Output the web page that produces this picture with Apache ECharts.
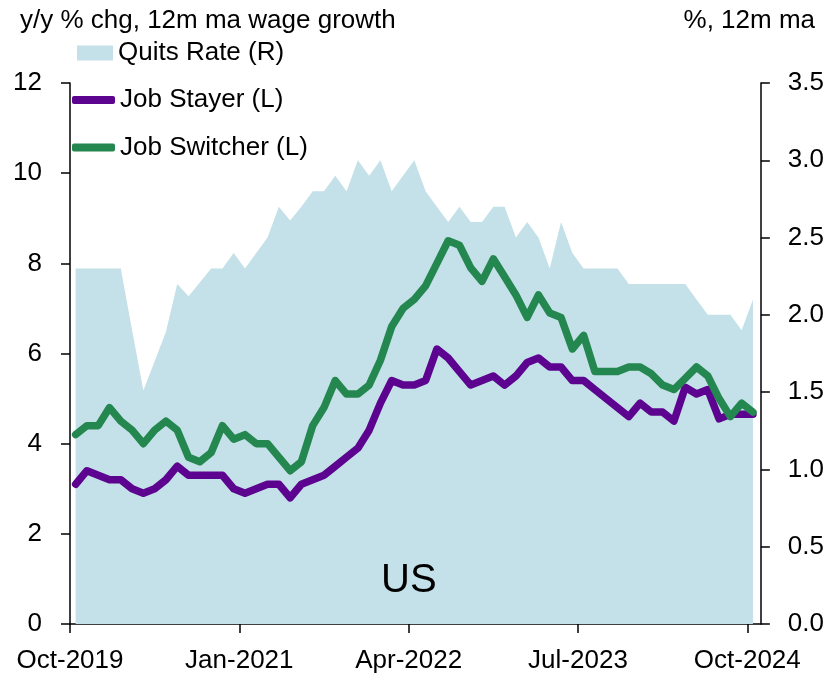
<!DOCTYPE html>
<html>
<head>
<meta charset="utf-8">
<script src="https://cdn.jsdelivr.net/npm/echarts@6/dist/echarts.min.js"></script>
<style>
  html, body { margin: 0; padding: 0; background: #fff; }
  #main { width: 827px; height: 681px; }
</style>
</head>
<body>
<div id="main"></div>
<script>
// monthly, Oct-2019 .. Oct-2024
var tickLabels = ['Oct-2019', 'Jan-2021', 'Apr-2022', 'Jul-2023', 'Oct-2024'];
var tickMonths = [0, 15, 30, 45, 60];

var quitsRate = [2.3, 2.3, 2.3, 2.3, 2.3, 1.9, 1.51, 1.7, 1.89, 2.2,
  2.12, 2.21, 2.3, 2.3, 2.4, 2.3, 2.4, 2.5, 2.7, 2.61,
  2.7, 2.8, 2.8, 2.9, 2.8, 3.0, 2.9, 3.0, 2.8, 2.9,
  3.0, 2.8, 2.7, 2.6, 2.7, 2.6, 2.6, 2.7, 2.7, 2.5,
  2.6, 2.5, 2.3, 2.6, 2.4, 2.3, 2.3, 2.3, 2.3, 2.2,
  2.2, 2.2, 2.2, 2.2, 2.2, 2.1, 2.0, 2.0, 2.0, 1.9, 2.1];

var jobStayer = [3.1, 3.4, 3.3, 3.2, 3.2, 3.0, 2.9, 3.0, 3.2, 3.5,
  3.3, 3.3, 3.3, 3.3, 3.0, 2.9, 3.0, 3.1, 3.1, 2.8,
  3.1, 3.2, 3.3, 3.5, 3.7, 3.9, 4.3, 4.9, 5.4, 5.3,
  5.3, 5.4, 6.1, 5.9, 5.6, 5.3, 5.4, 5.5, 5.3, 5.5,
  5.8, 5.9, 5.7, 5.7, 5.4, 5.4, 5.2, 5.0, 4.8, 4.6,
  4.9, 4.7, 4.7, 4.5, 5.25, 5.1, 5.2, 4.55, 4.65, 4.65, 4.65];

var jobSwitcher = [4.2, 4.4, 4.4, 4.8, 4.5, 4.3, 4.0, 4.3, 4.5, 4.3,
  3.7, 3.6, 3.8, 4.4, 4.1, 4.2, 4.0, 4.0, 3.7, 3.4,
  3.6, 4.4, 4.8, 5.4, 5.1, 5.1, 5.3, 5.85, 6.6, 7.0,
  7.2, 7.5, 8.0, 8.5, 8.4, 7.9, 7.6, 8.1, 7.7, 7.3,
  6.8, 7.3, 6.9, 6.8, 6.1, 6.4, 5.6, 5.6, 5.6, 5.7,
  5.7, 5.55, 5.3, 5.2, 5.45, 5.7, 5.5, 5.0, 4.6, 4.9, 4.7];

var FONT = '"Liberation Sans Narrow", "Arial Narrow", "Liberation Sans", sans-serif';
var FS = 26;

// points sit mid-month
function toPairs(arr) {
  return arr.map(function (v, i) { return [i + 0.5, v]; });
}

var chart = echarts.init(document.getElementById('main'), null, { renderer: 'canvas' });

var option = {
  animation: false,
  textStyle: { fontFamily: FONT, color: '#000' },
  title: [
    { text: 'y/y % chg, 12m ma wage growth', left: 20, top: 8, padding: 0,
      textStyle: { fontFamily: FONT, fontSize: FS, fontWeight: 'normal', color: '#000' } },
    { text: '%, 12m ma', right: 12, top: 8, padding: 0,
      textStyle: { fontFamily: FONT, fontSize: FS, fontWeight: 'normal', color: '#000' } }
  ],
  legend: [
    { data: [{ name: 'Quits Rate (R)', icon: 'rect' }],
      left: 77, top: 40, padding: 0, itemWidth: 36, itemHeight: 15,
      textStyle: { fontFamily: FONT, fontSize: FS, lineHeight: 26, color: '#000' } },
    { data: [{ name: 'Job Stayer (L)', icon: 'roundRect' }, { name: 'Job Switcher (L)', icon: 'roundRect' }],
      orient: 'vertical', left: 72, top: 87, padding: 0, itemGap: 21.5,
      itemWidth: 43, itemHeight: 8,
      textStyle: { fontFamily: FONT, fontSize: FS, lineHeight: 26, color: '#000' } }
  ],
  grid: { left: 70, right: 65, top: 83, bottom: 57, containLabel: false },
  xAxis: {
    type: 'value', min: 0, max: 61.2,
    axisLine: { show: true, lineStyle: { color: '#000', width: 1.5 } },
    axisTick: { show: true, length: 9, customValues: tickMonths, lineStyle: { color: '#000', width: 1.5 } },
    axisLabel: {
      customValues: tickMonths, margin: 24, fontSize: FS, fontFamily: FONT, color: '#000',
      formatter: function (v) {
        var k = tickMonths.indexOf(Math.round(v));
        return k >= 0 ? tickLabels[k] : '';
      }
    },
    splitLine: { show: false }
  },
  yAxis: [
    { type: 'value', min: 0, max: 12, interval: 2, position: 'left',
      axisLine: { show: true, lineStyle: { color: '#000', width: 1.5 } },
      axisTick: { show: true, length: 9, lineStyle: { color: '#000', width: 1.5 } },
      axisLabel: { margin: 28, fontSize: FS, fontFamily: FONT, color: '#000' },
      splitLine: { show: false } },
    { type: 'value', min: 0, max: 3.5, interval: 0.5, position: 'right',
      axisLine: { show: true, lineStyle: { color: '#000', width: 1.5 } },
      axisTick: { show: true, length: 9, lineStyle: { color: '#000', width: 1.5 } },
      axisLabel: { margin: 27, fontSize: FS, fontFamily: FONT, color: '#000',
        formatter: function (v) { return v.toFixed(1); } },
      splitLine: { show: false } }
  ],
  series: [
    { name: 'Quits Rate (R)', type: 'line', yAxisIndex: 1, data: toPairs(quitsRate),
      symbol: 'none', color: '#c4e0e8',
      lineStyle: { width: 0 }, areaStyle: { color: '#c4e0e8', opacity: 1 }, z: 1 },
    { name: 'Job Stayer (L)', type: 'line', yAxisIndex: 0, data: toPairs(jobStayer),
      symbol: 'none', color: '#5c048f',
      lineStyle: { width: 7.5, color: '#5c048f', cap: 'round', join: 'round' }, z: 3 },
    { name: 'Job Switcher (L)', type: 'line', yAxisIndex: 0, data: toPairs(jobSwitcher),
      symbol: 'none', color: '#23874f',
      lineStyle: { width: 7.5, color: '#23874f', cap: 'round', join: 'round' }, z: 4 }
  ],
  graphic: [
    { type: 'text', left: 381, top: 561, z: 10,
      style: { text: 'US', fontFamily: FONT, fontSize: 40, fill: '#000' } }
  ]
};

chart.setOption(option);
</script>
</body>
</html>
